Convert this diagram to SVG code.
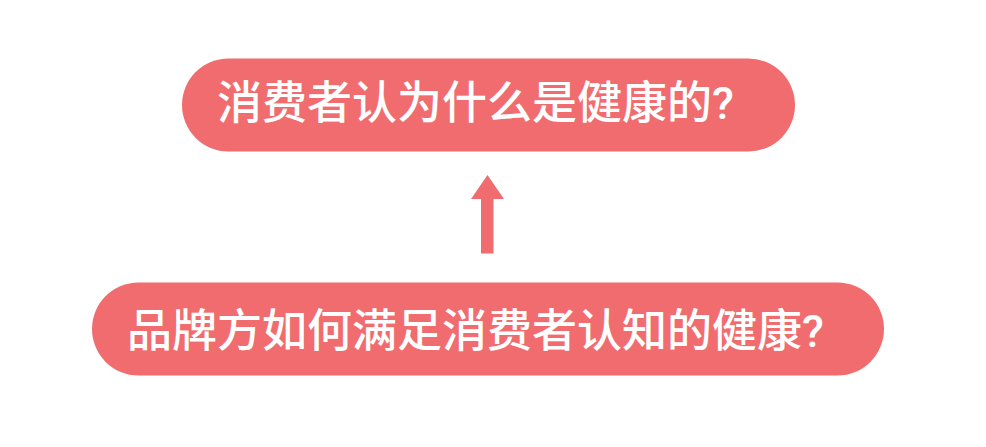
<svg xmlns="http://www.w3.org/2000/svg" width="986" height="447" viewBox="0 0 986 447">
<style>
.pill{fill:#F16C6E}
.lbl{fill:#ffffff;font-family:"Roboto","Noto Sans CJK SC","Noto Sans",sans-serif;font-size:45px;font-weight:500}
</style>
<rect width="986" height="447" fill="#ffffff"/>
<g id="node-top">
<rect class="pill" x="182" y="58.5" width="613" height="93" rx="46.5"/>
<text class="lbl" x="217" y="118.5">消费者认为什么是健康的?</text>
</g>
<g id="node-bottom">
<rect class="pill" x="92" y="282.5" width="792" height="93" rx="46.5"/>
<text class="lbl" x="127" y="347">品牌方如何满足消费者认知的健康?</text>
</g>
<g id="connectors">
<polygon class="pill" points="487.5,175 504,199 493.5,199 493.5,253.5 481,253.5 481,199 471,199"/>
</g>
</svg>
